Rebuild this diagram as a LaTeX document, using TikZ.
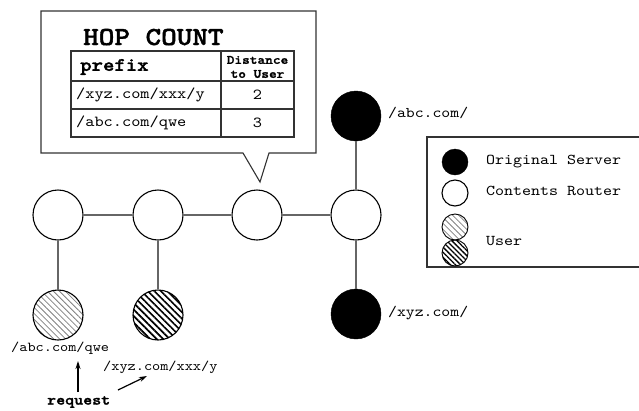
\documentclass[tikz,border=0pt]{standalone}
\usepackage{fontspec}
\setmonofont{lmmono10-regular.otf}[FakeStretch=1.143]
\newfontfamily\courbf{lmmonolt10-bold.otf}[FakeStretch=1.143,FakeBold=1.6]
\usetikzlibrary{patterns.meta,arrows.meta}
\definecolor{linkgray}{HTML}{666666}
\definecolor{framegray}{HTML}{333333}
\tikzset{
  router/.style={circle,draw=black,line width=1.1pt,fill=white,minimum size=50pt,inner sep=0pt},
  server/.style={circle,draw=black,fill=black,minimum size=50pt,inner sep=0pt},
  userA/.style={circle,draw=black,line width=1.1pt,minimum size=#1,inner sep=0pt,
    pattern={Lines[angle=-45,distance=4.2pt,line width=0.8pt]},pattern color=gray},
  userB/.style={circle,draw=black,line width=1.1pt,minimum size=#1,inner sep=0pt,
    pattern={Lines[angle=-45,distance=4.6pt,line width=1.7pt]},pattern color=black},
  link/.style={draw=linkgray,line width=1.5pt},
  frame/.style={draw=framegray,line width=1.1pt},
  mono/.style={font=\ttfamily\fontsize{#1}{#1}\selectfont,inner sep=0pt},
  monob/.style={font=\courbf\fontsize{#1}{#1}\selectfont,inner sep=0pt},
  req/.style={-{Stealth[length=8pt,width=5pt]},line width=1.2pt},
}
\begin{document}
\begin{tikzpicture}[x=1pt,y=-1pt]
\useasboundingbox (0,0) rectangle (639,410);

% network nodes
\node[router] (r1) at (58,215) {};
\node[router] (r2) at (158,215) {};
\node[router] (r3) at (257,215) {};
\node[router] (r4) at (356,215) {};
\node[server] (s1) at (356,116) {};
\node[server] (s2) at (356,314) {};
\node[userA=50pt] (u1) at (58,315) {};
\node[userB=50pt] (u2) at (158,315) {};

% links
\draw[link] (r1) -- (r2);
\draw[link] (r2) -- (r3);
\draw[link] (r3) -- (r4);
\draw[link] (r4) -- (s1);
\draw[link] (r4) -- (s2);
\draw[link] (r1) -- (u1);
\draw[link] (r2) -- (u2);

% server labels
\node[mono=14.8,anchor=west] (labc) at (388,113) {/abc.com/};
\node[mono=14.8,anchor=west] (lxyz) at (388,313) {/xyz.com/};

% speech bubble with hop count table
\draw[frame,fill=white] (41,11) -- (316,11) -- (316,153) -- (269,153) -- (260,182)
  -- (243,153) -- (41,153) -- cycle;
\node[monob=26,anchor=base west] (title) at (83,45) {HOP COUNT};
\draw[frame] (71,51) rectangle (294,137);
\draw[frame] (71,81) -- (294,81);
\draw[frame] (71,109) -- (294,109);
\draw[frame] (221,51) -- (221,137);
\node[monob=19,anchor=west] (hprefix) at (80,67) {prefix};
\node[monob=12.8,align=center] (hdist) at (257.5,67) {Distance\\[1.2pt]to User};
\node[mono=15.3,anchor=west] (p1) at (76,95) {/xyz.com/xxx/y};
\node[mono=15.3,anchor=west] (p2) at (76,123) {/abc.com/qwe};
\node[mono=15.3] (d1) at (257.5,95) {2};
\node[mono=15.3] (d2) at (257.5,123) {3};

% legend
\draw[frame] (640,137) -- (427,137) -- (427,267) -- (640,267);
\node[server,minimum size=26pt] (ls) at (455,162) {};
\node[router,minimum size=26pt] (lr) at (455,193) {};
\node[userA=26pt,line width=0.9pt] (lu1) at (455,227) {};
\node[userB=26pt,line width=0.9pt,pattern={Lines[angle=-45,distance=3.6pt,line width=1.3pt]}] (lu2) at (455,253) {};
\node[mono=15,anchor=west] (tls) at (486,162) {Original Server};
\node[mono=15,anchor=west] (tlr) at (486,191) {Contents Router};
\node[mono=15,anchor=west] (tlu) at (486,241) {User};

% request labels
\node[mono=13.6,anchor=west] (q1) at (11,348) {/abc.com/qwe};
\node[mono=13.6,anchor=west] (q2) at (103,367) {/xyz.com/xxx/y};
\node[monob=15,anchor=west] (rq) at (47,402) {request};
\coordinate (a1s) at (78,392);
\coordinate (a1e) at (78,361);
\coordinate (a2s) at (118,390);
\coordinate (a2e) at (147,376);
\draw[req] (a1s) -- (a1e);
\draw[req] (a2s) -- (a2e);
\end{tikzpicture}
\end{document}
